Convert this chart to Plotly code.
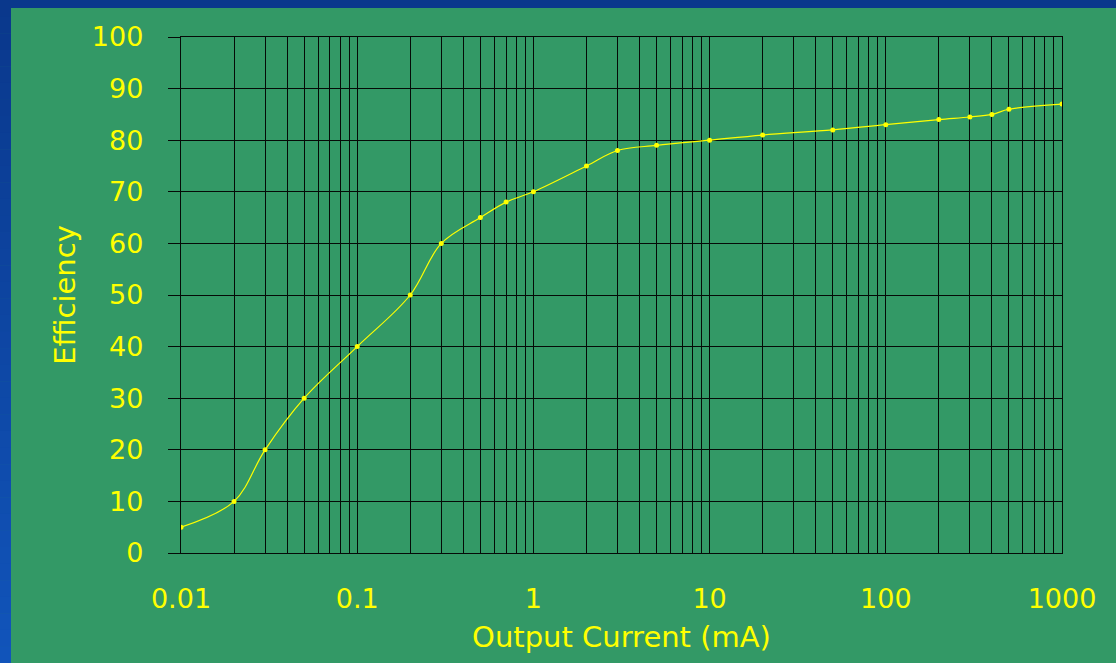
import plotly.graph_objects as go

# Efficiency vs. output current (log scale)
current_ma = [0.01, 0.02, 0.03, 0.05, 0.1, 0.2, 0.3, 0.5, 0.7, 1, 2, 3, 5, 10,
              20, 50, 100, 200, 300, 400, 500, 1000]
efficiency = [5, 10, 20, 30, 40, 50, 60, 65, 68, 70, 75, 78, 79, 80,
              81, 82, 83, 84, 84.5, 85, 86, 87]

x_tickvals = [0.01, 0.1, 1, 10, 100, 1000]
x_ticktext = ["0.01", "0.1", "1", "10", "100", "1000"]
y_tickvals = [0, 10, 20, 30, 40, 50, 60, 70, 80, 90, 100]

GREEN = "#339966"
YELLOW = "#FFFF00"
GRID = "#050a07"
FONT = "DejaVu Sans"

W, H = 1116, 663
ML, MR, MT, MB = 181, 54, 37, 110
PW, PH = W - ML - MR, H - MT - MB


def px_x(px):
    return (px - ML) / PW


def px_y(py):
    return (H - MB - py) / PH


fig = go.Figure()
fig.add_trace(go.Scatter(
    x=current_ma, y=efficiency,
    mode="lines+markers",
    line=dict(color=YELLOW, width=1.2, shape="spline"),
    marker=dict(color=YELLOW, size=5),
    hoverinfo="x+y",
    showlegend=False,
))

# slide-style blue frame: top band and a left band with a vertical gradient
shapes = [dict(type="rect", xref="paper", yref="paper", layer="below",
               x0=px_x(0), x1=px_x(W), y0=px_y(8), y1=px_y(0),
               fillcolor="#0A388C", line=dict(width=0))]
top_rgb, bot_rgb = (10, 56, 140), (17, 84, 186)
n = 40
for i in range(n):
    t = i / (n - 1)
    c = tuple(round(a + (b - a) * t) for a, b in zip(top_rgb, bot_rgb))
    shapes.append(dict(type="rect", xref="paper", yref="paper", layer="below",
                       x0=px_x(0), x1=px_x(11),
                       y0=px_y(H * (i + 1) / n + 0.5), y1=px_y(H * i / n),
                       fillcolor="rgb(%d,%d,%d)" % c, line=dict(width=0)))

fig.update_layout(
    width=W, height=H,
    margin=dict(l=ML, r=MR, t=MT, b=MB),
    paper_bgcolor=GREEN, plot_bgcolor=GREEN,
    font=dict(family=FONT, color=YELLOW),
    shapes=shapes,
    xaxis=dict(
        type="log", range=[-2, 3],
        tickvals=x_tickvals, ticktext=x_ticktext,
        tickfont=dict(size=27, color=YELLOW, family=FONT),
        ticks="", ticklabelstandoff=21,
        showgrid=True, gridcolor=GRID, gridwidth=1.4,
        minor=dict(dtick="D1", showgrid=True, gridcolor=GRID, gridwidth=1.4, ticks=""),
        showline=True, linecolor=GRID, linewidth=1.4, mirror=True,
        zeroline=False,
        title=dict(text="Output Current (mA)", font=dict(size=29, color=YELLOW, family=FONT),
                   standoff=14),
    ),
    yaxis=dict(
        range=[0, 100], tickvals=y_tickvals,
        tickfont=dict(size=27, color=YELLOW, family=FONT),
        ticks="outside", ticklen=12, tickcolor=GRID, tickwidth=1.4,
        ticklabelstandoff=19,
        showgrid=True, gridcolor=GRID, gridwidth=1.4,
        showline=True, linecolor=GRID, linewidth=1.4, mirror=True,
        zeroline=False,
        title=dict(text="Efficiency", font=dict(size=29, color=YELLOW, family=FONT),
                   standoff=7),
    ),
)

fig.write_html("out.html")
